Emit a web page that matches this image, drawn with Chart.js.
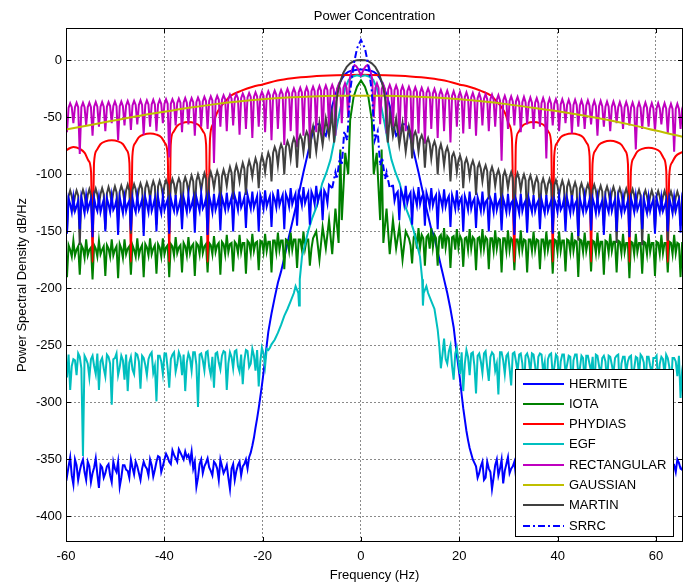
<!DOCTYPE html>
<html>
<head>
<meta charset="utf-8">
<script src="https://cdn.jsdelivr.net/npm/chart.js@4.4.1/dist/chart.umd.min.js"></script>
<style>
  html, body { margin: 0; padding: 0; background: #fff; }
</style>
</head>
<body>
<canvas id="psdChart" width="700" height="582"></canvas>
<script>
// frequency grid (Hz) shared by the rippled spectra, 13 values per row
const freqHz = [
  -60.45,-59.8,-59.15,-58.5,-57.85,-57.2,-56.55,-55.9,-55.25,-54.6,-53.95,-53.3,-52.65,
  -52,-51.35,-50.7,-50.05,-49.4,-48.75,-48.1,-47.45,-46.8,-46.15,-45.5,-44.85,-44.2,
  -43.55,-42.9,-42.25,-41.6,-40.95,-40.3,-39.65,-39,-38.35,-37.7,-37.05,-36.4,-35.75,
  -35.1,-34.45,-33.8,-33.15,-32.5,-31.85,-31.2,-30.55,-29.9,-29.25,-28.6,-27.95,-27.3,
  -26.65,-26,-25.35,-24.7,-24.05,-23.4,-22.75,-22.1,-21.45,-20.8,-20.15,-19.5,-18.85,
  -18.2,-17.55,-16.9,-16.25,-15.6,-14.95,-14.3,-13.65,-13,-12.35,-11.7,-11.05,-10.4,
  -9.75,-9.1,-8.45,-7.8,-7.15,-6.5,-5.85,-5.2,-4.55,-3.9,-3.25,-2.6,-1.95,
  -1.3,-0.65,0,0.65,1.3,1.95,2.6,3.25,3.9,4.55,5.2,5.85,6.5,
  7.15,7.8,8.45,9.1,9.75,10.4,11.05,11.7,12.35,13,13.65,14.3,14.95,
  15.6,16.25,16.9,17.55,18.2,18.85,19.5,20.15,20.8,21.45,22.1,22.75,23.4,
  24.05,24.7,25.35,26,26.65,27.3,27.95,28.6,29.25,29.9,30.55,31.2,31.85,
  32.5,33.15,33.8,34.45,35.1,35.75,36.4,37.05,37.7,38.35,39,39.65,40.3,
  40.95,41.6,42.25,42.9,43.55,44.2,44.85,45.5,46.15,46.8,47.45,48.1,48.75,
  49.4,50.05,50.7,51.35,52,52.65,53.3,53.95,54.6,55.25,55.9,56.55,57.2,
  57.85,58.5,59.15,59.8,60.45,61.1,61.75,62.4,63.05,63.7,64.35,65,65.65
];
// in-between frequencies, one after each grid value
const midHz = [
  -60.125,-59.475,-58.825,-58.175,-57.525,-56.875,-56.225,-55.575,-54.925,-54.275,-53.625,-52.975,-52.325,
  -51.675,-51.025,-50.375,-49.725,-49.075,-48.425,-47.775,-47.125,-46.475,-45.825,-45.175,-44.525,-43.875,
  -43.225,-42.575,-41.925,-41.275,-40.625,-39.975,-39.325,-38.675,-38.025,-37.375,-36.725,-36.075,-35.425,
  -34.775,-34.125,-33.475,-32.825,-32.175,-31.525,-30.875,-30.225,-29.575,-28.925,-28.275,-27.625,-26.975,
  -26.325,-25.675,-25.025,-24.375,-23.725,-23.075,-22.425,-21.775,-21.125,-20.475,-19.825,-19.175,-18.525,
  -17.875,-17.225,-16.575,-15.925,-15.275,-14.625,-13.975,-13.325,-12.675,-12.025,-11.375,-10.725,-10.075,
  -9.425,-8.775,-8.125,-7.475,-6.825,-6.175,-5.525,-4.875,-4.225,-3.575,-2.925,-2.275,-1.625,
  -0.975,-0.325,0.325,0.975,1.625,2.275,2.925,3.575,4.225,4.875,5.525,6.175,6.825,
  7.475,8.125,8.775,9.425,10.075,10.725,11.375,12.025,12.675,13.325,13.975,14.625,15.275,
  15.925,16.575,17.225,17.875,18.525,19.175,19.825,20.475,21.125,21.775,22.425,23.075,23.725,
  24.375,25.025,25.675,26.325,26.975,27.625,28.275,28.925,29.575,30.225,30.875,31.525,32.175,
  32.825,33.475,34.125,34.775,35.425,36.075,36.725,37.375,38.025,38.675,39.325,39.975,40.625,
  41.275,41.925,42.575,43.225,43.875,44.525,45.175,45.825,46.475,47.125,47.775,48.425,49.075,
  49.725,50.375,51.025,51.675,52.325,52.975,53.625,54.275,54.925,55.575,56.225,56.875,57.525,
  58.175,58.825,59.475,60.125,60.775,61.425,62.075,62.725,63.375,64.025,64.675,65.325,65.975
];

const hermiteDb = [
  -352,-365,-348,-372,-355,-360,-350,-368,-356,-362,-349,-375,-357,
  -362,-354,-370,-358,-352,-366,-355,-360,-350,-363,-356,-368,-352,
  -358,-350,-365,-352,-348,-356,-345,-352,-342,-349,-341,-347,-343,
  -346,-343,-352,-366,-350,-356,-349,-360,-352,-358,-350,-362,-355,
  -376,-354,-360,-352,-356,-350,-348,-338,-322,-305,-285,-262,-238,
  -222,-208,-195,-185,-173,-160,-148,-136,-124,-111,-98,-86,-74,
  -62,-56,-56,-62,-66,-55,-40,-30,-22,-16,-12,-10,-9,
  -8.5,-8,-8,-8,-8.5,-9,-10,-12,-16,-22,-30,-40,-55,
  -66,-62,-56,-56,-62,-74,-86,-98,-111,-124,-136,-148,-155,
  -168,-180,-192,-204,-218,-234,-258,-280,-305,-325,-340,-350,-356,
  -362,-352,-366,-358,-376,-355,-364,-350,-360,-348,-358,-352,-370,
  -355,-362,-350,-358,-347,-355,-352,-363,-349,-356,-351,-360,-350,
  -357,-348,-360,-352,-355,-346,-358,-350,-354,-362,-348,-356,-351,
  -359,-349,-355,-362,-350,-357,-348,-365,-352,-356,-349,-360,-351,
  -356,-348,-362,-352,-357,-347,-354,-360,-349,-355,-350,-358,-352
];
const hermiteMidDb = [
  -360,-356,-364,-350,-368,-354,-361,-352,-370,-357,-363,-355,-366,
  -356,-364,-352,-361,-374,-355,-359,-366,-357,-352,-362,-358,-356,
  -364,-355,-359,-347,-361,-350,-348,-354,-346,-352,-344,-350,-348,
  -352,-358,-374,-354,-362,-353,-357,-364,-354,-368,-356,-359,-366,
  -358,-368,-355,-364,-354,-358,-344,-331,-314,-295,-274,-250,-230,
  null,null,null,null,null,null,null,null,null,null,null,null,null,
  null,null,null,null,null,null,null,null,null,null,null,null,null,
  null,null,null,null,null,null,null,null,null,null,null,null,null,
  null,null,null,null,null,null,null,null,null,null,null,null,null,
  -174,-186,-198,-211,-226,-246,-269,-293,-315,-333,-345,-353,-366,
  -356,-368,-352,-361,-366,-350,-358,-371,-354,-362,-356,-365,-358,
  -350,-357,-364,-353,-360,-350,-366,-356,-361,-352,-358,-354,-362,
  -352,-364,-356,-350,-361,-354,-352,-366,-357,-351,-360,-355,-362,
  -353,-361,-356,-350,-358,-364,-352,-359,-357,-351,-363,-354,-358,
  -360,-353,-357,-364,-351,-358,-362,-350,-356,-361,-353,-359,-355
];

const iotaDb = [
  -165,-190,-166,-158,-166,-188,-165,-157,-166,-192,-165,-158,-166,
  -189,-165,-157,-166,-191,-165,-157,-165,-188,-166,-156,-165,-190,
  -164,-156,-165,-187,-164,-156,-164,-190,-163,-155,-164,-186,-163,
  -155,-163,-189,-162,-154,-163,-186,-162,-154,-162,-188,-161,-153,
  -161,-185,-161,-153,-160,-187,-160,-152,-160,-184,-159,-152,-159,
  -186,-158,-151,-158,-183,-158,-151,-157,-182,-157,-150,-157,-180,
  null,null,null,null,null,null,null,null,null,null,null,null,null,
  null,null,null,null,null,null,null,null,null,null,null,null,null,
  null,null,null,null,null,-178,-153,-147,-153,-180,-153,-147,-153,
  -180,-153,-147,-154,-182,-154,-148,-154,-181,-155,-148,-155,-184,
  -155,-148,-155,-183,-156,-149,-156,-186,-156,-149,-156,-184,-157,
  -149,-157,-186,-157,-150,-157,-183,-157,-150,-158,-187,-158,-150,
  -158,-185,-158,-151,-158,-190,-158,-151,-159,-185,-159,-151,-159,
  -188,-159,-152,-159,-186,-159,-152,-160,-191,-160,-152,-160,-187,
  -160,-152,-160,-189,-160,-153,-160,-186,-160,-153,-160,-190,-160
];
const iotaMidDb = [
  -163,-162,-172,-171,-163,-162,-173,-171,-164,-162,-172,-170,-163,
  -162,-172,-171,-163,-161,-173,-170,-163,-162,-172,-171,-162,-161,
  -171,-170,-162,-161,-172,-170,-162,-161,-171,-169,-162,-160,-171,
  -169,-161,-160,-170,-169,-161,-160,-170,-168,-160,-159,-170,-168,
  -160,-159,-169,-168,-160,-158,-169,-167,-159,-158,-168,-167,-159,
  -158,-168,-166,-158,-157,-167,-166,-157,-157,-166,-165,-157,-165,
  null,null,null,null,null,null,null,null,null,null,null,null,null,
  null,null,null,null,null,null,null,null,null,null,null,null,null,
  null,null,null,null,-162,-155,-165,-164,-156,-155,-165,-164,-156,
  -155,-165,-164,-156,-155,-166,-164,-157,-156,-166,-165,-157,-156,
  -166,-165,-157,-156,-167,-165,-157,-156,-167,-166,-158,-157,-167,
  -166,-158,-157,-167,-166,-158,-157,-168,-166,-158,-157,-168,-167,
  -158,-157,-168,-167,-159,-157,-168,-167,-159,-158,-169,-168,-159,
  -158,-169,-167,-159,-158,-169,-168,-160,-159,-170,-168,-160,-159,
  -170,-168,-160,-159,-170,-169,-160,-159,-170,-169,-161,-160,-170
];
const iotaCoreHz = [-9.75,-9.1,-8.45,-7.8,-7.15,-6.5,-5.85,-5.2,-4.55,-4.2,-3.9,-3.2,-2.6,-2.2,-1.5,-0.8,0,
  0.8,1.5,2.2,2.6,3.2,3.9,4.2,4.55,5.2,5.85,6.5,7.15,7.8,8.45,9.1,9.75];
const iotaCoreDb = [-156,-150,-175,-146,-165,-140,-170,-130,-160,-78,-140,-81,-100,-52,-32,-23,-17.5,
  -23,-32,-52,-100,-81,-140,-78,-160,-130,-170,-140,-165,-146,-175,-150,-156];

const egfDb = [
  -262,-278,-289,-262,-276,-260,-347,-262,-278,-259,-275,-289,-261,
  -277,-260,-302,-261,-276,-259,-280,-290,-260,-275,-258,-288,-261,
  -276,-258,-274,-299,-259,-275,-257,-287,-258,-273,-256,-276,-290,
  -257,-272,-256,-304,-257,-272,-255,-276,-287,-256,-271,-255,-289,
  -256,-270,-254,-273,-284,-254,-269,-253,-272,-286,-252,-268,-254,
  -249,-245,-239,-232,-224,-218,-211,-204,null,null,null,null,null,
  null,null,null,null,null,null,null,null,null,null,null,null,null,
  null,null,null,null,null,null,null,null,null,null,null,null,null,
  null,null,null,null,null,null,null,null,null,null,-204,-211,-218,
  -236,-270,-244,-266,-250,-280,-252,-275,-290,-254,-276,-256,-292,
  -257,-274,-255,-281,-256,-272,-293,-256,-275,-257,-285,-256,-273,
  -257,-289,-257,-274,-258,-282,-257,-273,-294,-258,-276,-258,-283,
  -258,-274,-259,-290,-258,-275,-259,-284,-259,-273,-292,-259,-276,
  -259,-283,-260,-275,-259,-291,-260,-274,-260,-285,-260,-276,-260,
  -289,-260,-275,-261,-284,-260,-276,-261,-290,-261,-277,-296,-262
];
const egfMidDb = [
  -265,-258,-268,-263,-257,-270,-259,-266,-262,-268,-257,-264,-270,
  -258,-266,-262,-257,-269,-263,-258,-265,-271,-257,-264,-259,-267,
  -262,-256,-268,-259,-264,-257,-270,-262,-256,-266,-260,-258,-265,
  -261,-256,-267,-258,-263,-256,-269,-260,-257,-265,-259,-256,-266,
  -260,-255,-268,-258,-263,-255,-266,-259,-254,-264,-257,-253,-252,
  null,null,null,null,null,null,null,null,null,null,null,null,null,
  null,null,null,null,null,null,null,null,null,null,null,null,null,
  null,null,null,null,null,null,null,null,null,null,null,null,null,
  null,null,null,null,null,null,null,null,null,null,null,null,null,
  -250,-258,-262,-255,-268,-257,-263,-256,-266,-260,-257,-268,-259,
  -264,-257,-269,-260,-258,-266,-256,-263,-259,-270,-257,-264,-258,
  -266,-259,-262,-257,-268,-260,-258,-265,-262,-257,-269,-260,-264,
  -258,-267,-260,-263,-258,-270,-261,-259,-266,-260,-258,-268,-261,
  -264,-259,-267,-261,-258,-266,-260,-264,-259,-270,-261,-258,-265,
  -260,-268,-261,-259,-266,-262,-258,-269,-261,-264,-259,-272,-262
];
const egfCoreHz = [-13.3,-12.75,-12.6,-12.45,-12,-11.3,-10.7,-9.9,-9,-7.9,-7,-6.2,-5.5,-4.8,-4,-3.2,-2.5,-1.6,-0.8,0,
  0.8,1.6,2.5,3.2,4,4.8,5.5,6.2,7,7.9,9,9.9,10.7,11.3,12,12.45,12.6,12.75,13.3];
const egfCoreDb = [-198,-204,-215,-192,-172,-160,-149,-138,-128,-108,-98,-87,-72,-55,-38,-24,-17,-14,-13,-14,
  -13,-14,-17,-24,-38,-55,-72,-87,-98,-108,-128,-138,-149,-160,-172,-192,-215,-204,-198];

const rectangularDb = [
  -37.5,-63,-37.5,-55,-37,-82,-37,-57,-37,-66,-36.5,-58,-36.5,
  -62,-36.5,-55,-36,-70,-36,-57,-35.5,-61,-35.5,-56,-35,-65,
  -35,-58,-34.5,-62,-34.5,-55,-34,-85,-34,-57,-33.5,-63,-33,
  -56,-33,-66,-32.5,-58,-32,-60,-31.5,-90,-31,-58,-30.5,-62,
  -30,-57,-29.5,-65,-29,-60,-28.5,-68,-28,-58,-27.5,-63,-27,
  -70,-26.5,-60,-26,-74,-25,-62,-24.5,-76,-24,-66,-23.5,-72,
  -23,-63,-22.5,-70,-22,-60,-21.5,-66,-21,-55,-20,-50,-10,
  -4,-7,-13,-7,-4,-10,-50,-20,-56,-21,-64,-21.5,-58,
  -22,-70,-22.5,-62,-23,-75,-23.5,-64,-24,-73,-24.5,-60,-25,
  -68,-26,-62,-26.5,-72,-27,-58,-27.5,-64,-28,-60,-28.5,-66,
  -29,-57,-29.5,-62,-30,-58,-30.5,-88,-31,-60,-31.5,-57,-32,
  -63,-32,-56,-32.5,-60,-33,-58,-33,-86,-33.5,-57,-34,-62,
  -34,-55,-34.5,-64,-34.5,-58,-35,-60,-35,-56,-35.5,-66,-35.5,
  -58,-36,-62,-36,-55,-36.5,-60,-36.5,-57,-37,-78,-37,-60,
  -37,-58,-37.5,-62,-37.5,-56,-37.5,-64,-38,-80,-38,-60,-38
];
const rectangularMidDb = [
  -41.5,-41.5,-41,-41,-41,-41,-41,-41,-41,-40.5,-40.5,-40.5,-40.5,
  -40.5,-40,-40,-40,-40,-40,-39.5,-39.5,-39.5,-39,-39,-39,-39,
  -38.5,-38.5,-38.5,-38.5,-38,-38,-38,-38,-37.5,-37.5,-37,-37,-37,
  -37,-36.5,-36.5,-36,-36,-35.5,-35.5,-35,-35,-34.5,-34.5,-34,-34,
  -33.5,-33.5,-33,-33,-32.5,-32.5,-32,-32,-31.5,-31.5,-31,-31,-30.5,
  -30.5,-30,-30,-29.5,-29,-29,-28.5,-28.5,-28,-28,-27.5,-27.5,-27,
  -27,-26.5,-26.5,-26,-26,-25.5,-25.5,-25,-25,-24,-24,-16,-6,
  -5,-10,-10,-5,-6,-16,-24,-24,-25,-25,-25.5,-25.5,-26,
  -26,-26.5,-26.5,-27,-27,-27.5,-27.5,-28,-28,-28.5,-28.5,-29,-29.5,
  -30,-30,-30.5,-31,-31,-31.5,-31.5,-32,-32,-32.5,-32.5,-33,-33,
  -33.5,-33.5,-34,-34,-34.5,-34.5,-35,-35,-35.5,-35.5,-36,-36,-36.5,
  -36.5,-36.5,-37,-37,-37,-37.5,-37.5,-37.5,-38,-38,-38,-38.5,-38.5,
  -38.5,-39,-39,-39,-39,-39.5,-39.5,-39.5,-39.5,-40,-40,-40,-40,
  -40.5,-40.5,-40.5,-40.5,-41,-41,-41,-41,-41.5,-41.5,-41.5,-41.5,-41.5,
  -41.5,-42,-42,-42,-42,-42,-42,-42.5,-42.5,-42.5,-42.5,-42.5,-42.5
];

const martinDb = [
  -114.5,-150,-114,-128,-114,-162,-113.5,-127,-113,-145,-112.5,-126,-112,
  -148,-111,-125,-110.5,-140,-110,-124,-109,-152,-108.5,-122,-108,-138,
  -107,-121,-106,-144,-105.5,-119,-105,-135,-104,-118,-103.5,-140,-102.5,
  -116,-101,-132,-100,-114,-99,-138,-98,-112,-97,-128,-96,-110,
  -93.5,-122,-92,-106,-90,-118,-88,-102,-86,-112,-83.5,-98,-81,
  -106,-76,-92,-73.5,-100,-71,-86,-68,-94,-65.5,-80,-62.5,-86,
  -58,null,null,null,null,null,null,null,null,null,null,null,null,
  null,null,null,null,null,null,null,null,null,null,null,null,null,
  null,null,null,null,-58,-86,-62.5,-80,-65.5,-94,-68,-86,-71,
  -100,-73.5,-92,-76,-106,-81,-98,-83.5,-112,-86,-102,-88,-118,
  -90,-106,-92,-122,-93.5,-110,-96,-130,-97,-112,-98,-136,-99,
  -114,-100,-140,-101,-116,-102.5,-134,-103.5,-118,-104,-150,-105,-119,
  -105.5,-138,-106,-121,-107,-158,-108,-122,-108.5,-140,-109,-124,-110,
  -145,-110.5,-125,-111,-160,-112,-126,-112.5,-142,-113,-127,-113.5,-162,
  -114,-128,-114,-148,-114.5,-128,-114.5,-158,-115,-129,-115,-145,-115
];
const martinMidDb = [
  -119.5,-119,-119,-119,-118.5,-118.5,-118,-118,-118,-117.5,-117.5,-117,-117,
  -116.5,-116,-115.5,-115.5,-115,-114.5,-114,-114,-113.5,-113,-113,-112.5,-112,
  -111.5,-111,-110.5,-110.5,-110,-109.5,-109,-109,-108.5,-108,-107.5,-107.5,-107,
  -106.5,-106,-105.5,-105,-104.5,-104,-103.5,-103,-102.5,-102,-101.5,-101,-99.5,
  -98.5,-98,-97,-96,-95,-94,-93,-92,-91,-90,-88.5,-87,-85.5,
  -81,-80,-78.5,-77.5,-76,-75,-73,-72,-70,-69,-67,-66,-64,
  null,null,null,null,null,null,null,null,null,null,null,null,null,
  null,null,null,null,null,null,null,null,null,null,null,null,null,
  null,null,null,null,-64,-66,-67,-69,-70,-72,-73,-75,-76,
  -78.5,-79.5,-80,-81.5,-84,-86,-87.5,-88.5,-90,-91,-92,-93,-94,
  -95,-96,-97,-98,-98.5,-100,-101,-101.5,-102,-102.5,-103,-103.5,-104,
  -104.5,-105,-105.5,-106,-107,-107.5,-108,-108.5,-108.5,-109,-109.5,-110,-110.5,
  -110.5,-111,-111,-111.5,-112,-112.5,-113,-113,-113.5,-113.5,-114,-114.5,-115,
  -115,-115.5,-115.5,-116,-116.5,-117,-117,-117.5,-117.5,-118,-118,-118.5,-118.5,
  -119,-119,-119,-119,-119.5,-119.5,-119.5,-119.5,-120,-120,-120,-120,-120
];
const martinCoreHz = [-9.1,-8.45,-7.8,-7.15,-6.5,-5.9,-5.45,-5,-4.6,-4.2,-3.6,-2.9,-2.2,-1.5,-0.75,0,
  0.75,1.5,2.2,2.9,3.6,4.2,4.6,5,5.45,5.9,6.5,7.15,7.8,8.45,9.1];
const martinCoreDb = [-80,-55,-74,-51,-66,-46,-72,-36,-25,-18.5,-11,-5.5,-2.5,-0.5,0.3,0.5,
  0.3,-0.5,-2.5,-5.5,-11,-18.5,-25,-36,-72,-46,-66,-51,-74,-55,-80];

const srrcDb = [
  -127,-152,-126,-120,-128,-148,-127,-119,-126,-155,-128,-120,-127,
  -150,-126,-119,-128,-153,-127,-120,-126,-149,-128,-119,-127,-154,
  -126,-118,-127,-150,-128,-119,-126,-152,-127,-118,-128,-148,-126,
  -118,-127,-151,-126,-117,-127,-153,-125,-117,-126,-149,-125,-116,
  -125,-150,-124,-115,-125,-147,-124,-115,-124,-150,-123,-114,-123,
  -146,-122,-113,-122,-148,-121,-112,-121,-145,-120,-111,-120,-144,
  -119,-110,-118,-140,-117,-109,null,null,null,null,null,null,null,
  null,null,null,null,null,null,null,null,null,null,null,null,-109,
  -117,-140,-118,-110,-119,-144,-120,-111,-120,-145,-121,-112,-121,
  -148,-122,-113,-122,-146,-123,-114,-123,-150,-124,-115,-124,-147,
  -125,-115,-124,-150,-125,-116,-125,-149,-126,-117,-125,-153,-127,
  -117,-126,-151,-127,-118,-126,-148,-128,-118,-127,-152,-126,-119,
  -128,-150,-127,-118,-126,-154,-127,-119,-128,-149,-126,-120,-127,
  -153,-128,-119,-126,-150,-127,-120,-128,-155,-126,-119,-127,-148,
  -128,-120,-126,-152,-127,-120,-128,-150,-127,-120,-126,-151,-127
];
const srrcMidDb = [
  -122,-121,-133,-132,-123,-120,-134,-131,-122,-121,-132,-133,-122,
  -121,-133,-131,-122,-120,-134,-132,-123,-121,-133,-131,-122,-120,
  -133,-132,-121,-120,-134,-131,-122,-121,-132,-133,-122,-120,-133,
  -131,-121,-120,-132,-130,-121,-119,-133,-131,-120,-120,-131,-130,
  -120,-119,-131,-129,-120,-118,-130,-129,-119,-118,-130,-128,-119,
  -118,-129,-127,-118,-117,-128,-126,-117,-116,-127,-125,-116,-115,
  -126,-124,-115,-114,-125,null,null,null,null,null,null,null,null,
  null,null,null,null,null,null,null,null,null,null,null,null,-123,
  -115,-114,-126,-125,-116,-115,-127,-126,-117,-116,-128,-127,-118,
  -117,-129,-128,-119,-118,-130,-129,-120,-119,-131,-130,-121,-120,
  -132,-131,-122,-121,-133,-131,-122,-121,-133,-132,-123,-122,-134,
  -132,-123,-121,-133,-132,-123,-122,-134,-132,-123,-122,-133,-131,
  -122,-121,-134,-132,-123,-121,-133,-132,-122,-121,-134,-133,-123,
  -121,-133,-132,-122,-120,-134,-132,-123,-121,-133,-131,-122,-121,
  -134,-132,-122,-121,-133,-132,-123,-121,-134,-132,-122,-121,-133
];
const srrcCoreHz = [-5.85,-5.2,-4.9,-4.3,-3.9,-3.4,-2.8,-2.2,-1.5,-0.8,0,0.8,1.5,2.2,2.8,3.4,3.9,4.3,4.9,5.2,5.85];
const srrcCoreDb = [-112,-98,-104,-85,-92,-62,-70,-27,-4,10.7,18,10.7,-4,-27,-70,-62,-92,-85,-104,-98,-112];

// smooth spectra with their own sampling
const phydiasHz = [-60.45,-58.5,-57.2,-56.2,-55.4,-54.9,-54.6,
  -54.3,-53.8,-53,-52,-50.7,-49.4,-48.4,-47.6,-47.1,-46.8,
  -46.5,-46,-45.2,-44.2,-42.9,-41.6,-40.6,-39.8,-39.3,-39,
  -38.7,-38.2,-37.4,-36.4,-35.1,-33.8,-32.8,-32,-31.5,-31.2,
  -30.7,-30.1,-29.4,-28.6,-27.6,-26.5,-24.3,-22,-20,-17,-14,-10,-5,0,
  5,10,14,17,20,22,24.3,26.5,27.6,28.6,29.4,30.1,30.7,31.2,
  31.5,32,32.8,33.8,35.1,36.4,37.4,38.2,38.7,39,
  39.3,39.8,40.6,41.6,42.9,44.2,45.2,46,46.5,46.8,
  47.1,47.6,48.4,49.4,50.7,52,53,53.8,54.3,54.6,
  54.9,55.4,56.2,57.2,58.5,59.8,60.8,61.6,62.1,62.4,
  62.7,63.2,64,65,65.65];
const phydiasDb = [-80,-76,-77.5,-81,-88,-98,-177,
  -90,-79,-73.5,-71,-70,-71,-73.5,-79,-90,-177,
  -84,-73,-67.5,-65,-64,-65,-67.5,-73,-84,-177,
  -74,-63,-57.5,-55,-54,-55,-57.5,-63,-74,-177,
  -68,-56,-47,-41,-36,-31,-26.5,-23,-21,-17.5,-15.5,-14,-13,-12.5,
  -13,-14,-15.5,-17.5,-21,-23,-26.5,-31,-36,-41,-47,-56,-68,-177,
  -74,-63,-57.5,-55,-54,-55,-57.5,-63,-74,-177,
  -84,-73,-67.5,-65,-64,-65,-67.5,-73,-84,-177,
  -90.5,-79.5,-74,-71.5,-70.5,-71.5,-74,-79.5,-90.5,-177,
  -97,-86,-80,-77.5,-76.5,-77.5,-80,-86,-97,-177,
  -101,-90,-84,-81,-80];

const gaussHz = [-60.45,-55,-50,-45,-40,-35,-30,-25,-20,-15,-10,-5,0,5,10,15,20,25,30,35,40,45,50,55,60,65,65.65];
const gaussDb = [-61,-56.5,-52.5,-48.5,-45,-41.5,-38.5,-36,-34,-32.5,-31.5,-31,-31,-31,-31.5,-32.5,-34,-36,-38.5,-41.5,-44.5,-48,-52,-56.5,-61.5,-66.5,-67];

const seriesNames = ['HERMITE', 'IOTA', 'PHYDIAS', 'EGF', 'RECTANGULAR', 'GAUSSIAN', 'MARTIN', 'SRRC'];
const seriesColors = ['#0000ff', '#008000', '#ff0000', '#00bfbf', '#bf00bf', '#bfbf00', '#404040', '#0000ff'];
const xTicks = [-60, -40, -20, 0, 20, 40, 60];
const yTicks = [-400, -350, -300, -250, -200, -150, -100, -50, 0];
const dashDot = [7, 3, 2, 3];

const FONT = '"Liberation Sans", Arial, Helvetica, sans-serif';

function toPoints(hz, db) {
  const pts = [];
  for (let i = 0; i < hz.length; i++) {
    if (db[i] !== null && db[i] !== undefined) pts.push({ x: hz[i], y: db[i] });
  }
  return pts;
}
// join several (hz, db) pieces into one sorted trace
function joinParts(...parts) {
  let pts = [];
  parts.forEach(([hz, db]) => { pts = pts.concat(toPoints(hz, db)); });
  pts.sort((a, b) => a.x - b.x);
  return pts;
}

const seriesPoints = [
  joinParts([freqHz, hermiteDb], [midHz, hermiteMidDb]),
  joinParts([freqHz, iotaDb], [midHz, iotaMidDb], [iotaCoreHz, iotaCoreDb]),
  joinParts([phydiasHz, phydiasDb]),
  joinParts([freqHz, egfDb], [midHz, egfMidDb], [egfCoreHz, egfCoreDb]),
  joinParts([freqHz, rectangularDb], [midHz, rectangularMidDb]),
  joinParts([gaussHz, gaussDb]),
  joinParts([freqHz, martinDb], [midHz, martinMidDb], [martinCoreHz, martinCoreDb]),
  joinParts([freqHz, srrcDb], [midHz, srrcMidDb], [srrcCoreHz, srrcCoreDb])
];

const datasets = seriesNames.map((name, i) => {
  const ds = {
    label: name,
    data: seriesPoints[i],
    borderColor: seriesColors[i],
    backgroundColor: seriesColors[i],
    borderWidth: 2,
    pointRadius: 0,
    fill: false,
    tension: 0,
    cubicInterpolationMode: (name === 'PHYDIAS' || name === 'GAUSSIAN') ? 'monotone' : 'default',
    order: seriesNames.length - 1 - i
  };
  if (name === 'SRRC') {
    // the dense side-lobe band reads as solid, the main lobe as dash-dot
    ds.segment = { borderDash: c => (Math.abs(c.p0.parsed.x) < 6.2 ? dashDot : undefined) };
  }
  return ds;
});

// box, inner ticks, titles and the legend, drawn MATLAB style
const matlabFrame = {
  id: 'matlabFrame',
  afterDraw(chart) {
    const { ctx, chartArea: a, scales } = chart;
    ctx.save();
    ctx.strokeStyle = '#000';
    ctx.lineWidth = 1;
    ctx.setLineDash([]);
    ctx.strokeRect(a.left + 0.5, a.top + 0.5, a.right - a.left - 1, a.bottom - a.top - 1);
    ctx.beginPath();
    xTicks.forEach(v => {
      const px = Math.round(scales.x.getPixelForValue(v)) + 0.5;
      ctx.moveTo(px, a.bottom); ctx.lineTo(px, a.bottom - 5);
      ctx.moveTo(px, a.top); ctx.lineTo(px, a.top + 5);
    });
    yTicks.forEach(v => {
      const py = Math.round(scales.y.getPixelForValue(v)) + 0.5;
      ctx.moveTo(a.left, py); ctx.lineTo(a.left + 5, py);
      ctx.moveTo(a.right, py); ctx.lineTo(a.right - 5, py);
    });
    ctx.stroke();

    ctx.fillStyle = '#000';
    ctx.font = '13px ' + FONT;
    ctx.textAlign = 'center';
    ctx.textBaseline = 'middle';
    const cx = (a.left + a.right) / 2;
    ctx.fillText('Power Concentration', cx, 16);
    ctx.fillText('Frequency (Hz)', cx, 575);
    ctx.save();
    ctx.translate(22, (a.top + a.bottom) / 2);
    ctx.rotate(-Math.PI / 2);
    ctx.fillText('Power Spectral Density dB/Hz', 0, 0);
    ctx.restore();

    // legend
    const lx = 515, ly = 369, lw = 159, lh = 168;
    ctx.fillStyle = '#fff';
    ctx.fillRect(lx, ly, lw, lh);
    ctx.strokeStyle = '#000';
    ctx.strokeRect(lx + 0.5, ly + 0.5, lw - 1, lh - 1);
    ctx.textAlign = 'left';
    seriesNames.forEach((name, i) => {
      const y = Math.round(383.5 + i * 20.3);
      ctx.strokeStyle = seriesColors[i];
      ctx.lineWidth = 2;
      ctx.setLineDash(name === 'SRRC' ? dashDot : []);
      ctx.beginPath();
      ctx.moveTo(523, y); ctx.lineTo(564, y);
      ctx.stroke();
      ctx.setLineDash([]);
      ctx.fillStyle = '#000';
      ctx.fillText(name, 569, y + 0.5);
    });
    ctx.restore();
  }
};

new Chart(document.getElementById('psdChart'), {
  type: 'line',
  data: { datasets: datasets },
  options: {
    responsive: false,
    animation: false,
    devicePixelRatio: 1,
    layout: { padding: { left: 0, right: 17, top: 28, bottom: 0 } },
    plugins: {
      legend: { display: false },
      tooltip: { enabled: false },
      title: { display: false }
    },
    scales: {
      x: {
        type: 'linear',
        min: -60,
        max: 65.5,
        afterBuildTicks: s => { s.ticks = xTicks.map(v => ({ value: v })); },
        afterFit: s => { s.height = 40; },
        ticks: { color: '#000', font: { family: FONT, size: 13 }, padding: 7, maxRotation: 0, autoSkip: false },
        grid: { color: '#8a8a8a', lineWidth: 1, drawTicks: false },
        border: { display: false, dash: [2, 2] }
      },
      y: {
        type: 'linear',
        min: -422.4,
        max: 28.5,
        afterBuildTicks: s => { s.ticks = yTicks.map(v => ({ value: v })); },
        afterFit: s => { s.width = 66; },
        ticks: { color: '#000', font: { family: FONT, size: 13 }, padding: 4, autoSkip: false },
        grid: { color: '#8a8a8a', lineWidth: 1, drawTicks: false },
        border: { display: false, dash: [2, 2] }
      }
    }
  },
  plugins: [matlabFrame]
});
</script>
</body>
</html>
